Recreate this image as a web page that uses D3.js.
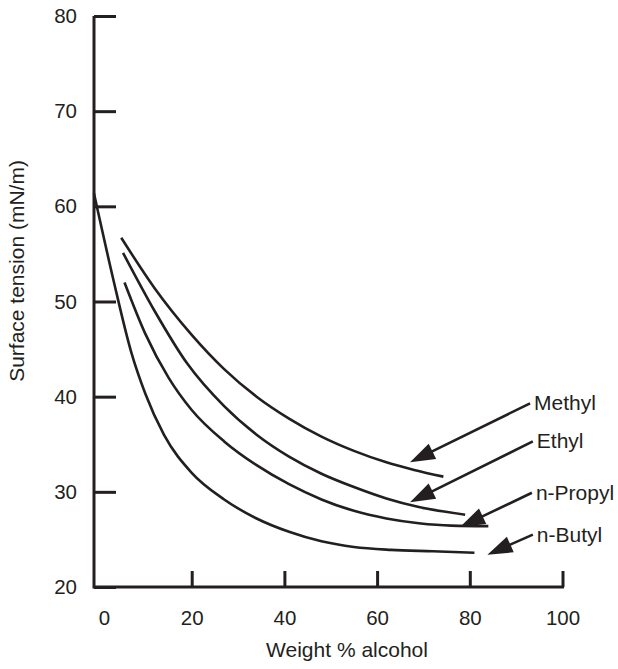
<!DOCTYPE html>
<html>
<head>
<meta charset="utf-8">
<style>
  body { margin: 0; background: #fff; }
  svg text { font-family: "Liberation Sans", Arial, sans-serif; fill: #231f20; }
  .tick text { font-size: 20.5px; }
  .lbl { font-size: 21px; }
  .curve { fill: none; stroke: #231f20; stroke-width: 2.6; }
</style>
</head>
<body>
<svg id="chart" width="618" height="669"></svg>
<script src="https://cdn.jsdelivr.net/npm/d3@7"></script>
<script>
// values (x = weight % alcohol, y = surface tension mN/m)
var methylX = [4.8, 12, 20, 27, 34, 41, 48, 55, 62, 68, 74.3];
var methylY = [56.7, 51.4, 46.5, 42.9, 40.0, 37.7, 35.8, 34.3, 33.1, 32.3, 31.6];

var ethylX = [5.2, 12, 19, 27, 34, 41, 48, 55, 62, 69, 79];
var ethylY = [55.1, 49.0, 43.5, 39.0, 36.0, 33.7, 31.9, 30.5, 29.3, 28.4, 27.6];

var propylX = [5.5, 10, 15, 20, 27, 34, 41, 48, 55, 62, 69, 76, 84];
var propylY = [52.0, 46.6, 42.0, 38.6, 35.3, 32.8, 30.8, 29.2, 28.0, 27.2, 26.7, 26.45, 26.4];

var butylX = [-1.1, 3, 7, 10, 14, 20, 27, 34, 41, 48, 55, 63, 72, 81];
var butylY = [61.4, 52.5, 44.6, 40.3, 36.0, 32.0, 29.2, 27.2, 25.8, 24.8, 24.2, 23.9, 23.75, 23.6];

var seriesNames = ["Methyl", "Ethyl", "n-Propyl", "n-Butyl"];
// arrow label anchor (tail) and arrow tip, in data units
var arrowTail = [[93.0, 39.3], [93.6, 35.3], [93.4, 29.9], [93.6, 25.5]];
var arrowTip  = [[67.1, 33.1], [67.1, 28.9], [77.9, 26.3], [83.8, 23.4]];

var xTicks = [0, 20, 40, 60, 80, 100];
var yTicks = [20, 30, 40, 50, 60, 70, 80];

var svg = d3.select("#chart");
var ink = "#231f20";

var x = d3.scaleLinear().domain([0, 100]).range([99, 562.5]);
var y = d3.scaleLinear().domain([20, 80]).range([587, 16]);
var axisX = 94; // where the vertical axis sits

// y axis: ticks point inward, labels on the left
var gy = svg.append("g")
    .attr("transform", "translate(" + axisX + ",0)")
    .call(d3.axisLeft(y).tickValues(yTicks).tickSizeInner(-22).tickSizeOuter(0).tickPadding(17));
gy.select(".domain").remove();
gy.selectAll(".tick line").attr("stroke", ink).attr("stroke-width", 3);

// x axis: ticks point upward
var gx = svg.append("g")
    .attr("transform", "translate(0," + y(20) + ")")
    .call(d3.axisBottom(x).tickValues(xTicks).tickSizeInner(-16).tickSizeOuter(0).tickPadding(23));
gx.select(".domain").remove();
gx.selectAll(".tick line").attr("stroke", ink).attr("stroke-width", 3)
    .filter(function(d) { return d === 0; }).remove();
gx.selectAll(".tick text").filter(function(d) { return d === 0; }).attr("dx", 5);

svg.selectAll(".tick text").attr("fill", ink);

// axis frame lines
svg.append("path")
    .attr("d", "M" + axisX + "," + y(80) + "V" + y(20) + "H" + (x(100) + 1.5))
    .attr("fill", "none").attr("stroke", ink).attr("stroke-width", 3);

// curves
var line = d3.line()
    .x(function(d) { return x(d[0]); })
    .y(function(d) { return y(d[1]); })
    .curve(d3.curveMonotoneX);

var series = [
  d3.zip(methylX, methylY),
  d3.zip(ethylX, ethylY),
  d3.zip(propylX, propylY),
  d3.zip(butylX, butylY)
];

svg.selectAll(".curve")
    .data(series)
  .enter().append("path")
    .attr("class", "curve")
    .attr("d", line);

// arrows + labels
var headLen = 25, headHalf = 8.5;
seriesNames.forEach(function(name, i) {
  var x0 = x(arrowTail[i][0]), y0 = y(arrowTail[i][1]);
  var x1 = x(arrowTip[i][0]), y1 = y(arrowTip[i][1]);
  var dx = x1 - x0, dy = y1 - y0, len = Math.sqrt(dx * dx + dy * dy);
  var ux = dx / len, uy = dy / len;
  var bx = x1 - ux * headLen, by = y1 - uy * headLen;

  svg.append("line")
      .attr("x1", x0).attr("y1", y0).attr("x2", bx + ux * 2).attr("y2", by + uy * 2)
      .attr("stroke", ink).attr("stroke-width", 2.6);
  svg.append("path")
      .attr("d", "M" + x1 + "," + y1 +
                 "L" + (bx - uy * headHalf) + "," + (by + ux * headHalf) +
                 "L" + (bx + uy * headHalf) + "," + (by - ux * headHalf) + "Z")
      .attr("fill", ink);
  svg.append("text")
      .attr("class", "lbl")
      .attr("x", x0 + 4)
      .attr("y", y0 + 7)
      .text(name);
});

// axis titles
svg.append("text")
    .attr("class", "lbl")
    .attr("x", 347)
    .attr("y", 657)
    .attr("text-anchor", "middle")
    .text("Weight % alcohol");

svg.append("text")
    .attr("class", "lbl")
    .attr("transform", "translate(24,271) rotate(-90)")
    .attr("text-anchor", "middle")
    .text("Surface tension (mN/m)");
</script>
</body>
</html>
